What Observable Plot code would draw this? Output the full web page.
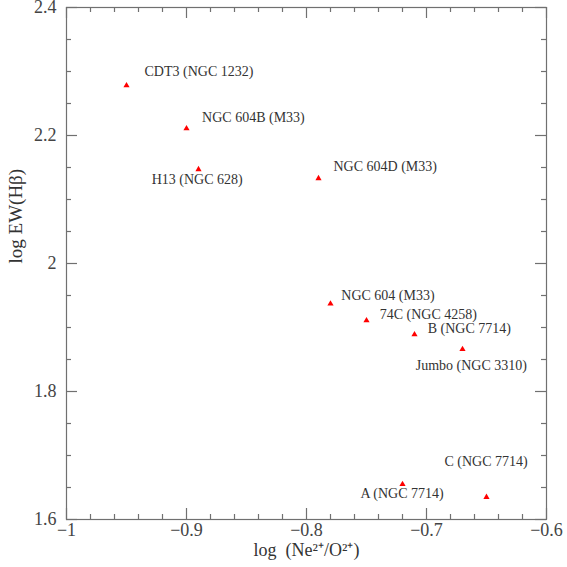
<!DOCTYPE html>
<html><head><meta charset="utf-8">
<script src="https://cdn.jsdelivr.net/npm/d3@7"></script>
<script src="https://cdn.jsdelivr.net/npm/@observablehq/plot@0.6"></script>
<style>body{margin:0;background:#fff}</style>
</head><body><div id="chart"></div>
<script>
// Data
const names = ["CDT3 (NGC 1232)", "NGC 604B (M33)", "H13 (NGC 628)", "NGC 604D (M33)", "NGC 604 (M33)",
  "74C (NGC 4258)", "B (NGC 7714)", "Jumbo (NGC 3310)", "A (NGC 7714)", "C (NGC 7714)"];
const logNeO = [-0.95, -0.90, -0.89, -0.79, -0.78, -0.75, -0.71, -0.67, -0.72, -0.65];
const logEW = [2.278, 2.211, 2.147, 2.133, 1.937, 1.911, 1.889, 1.866, 1.655, 1.635];
// label anchor positions (data coordinates, text start)
const labelX = [-0.935, -0.887, -0.929, -0.7775, -0.771, -0.739, -0.699, -0.709, -0.755, -0.685];
const labelY = [2.300, 2.228, 2.131, 2.151, 1.950, 1.920, 1.899, 1.840, 1.640, 1.690];
// Ticks
const xMajor = [-1, -0.9, -0.8, -0.7, -0.6];
const xMinor = [-0.98, -0.96, -0.94, -0.92, -0.88, -0.86, -0.84, -0.82, -0.78, -0.76, -0.74, -0.72,
  -0.68, -0.66, -0.64, -0.62];
const yMajor = [1.6, 1.8, 2, 2.2, 2.4];
const yMinor = [1.65, 1.7, 1.75, 1.85, 1.9, 1.95, 2.05, 2.1, 2.15, 2.25, 2.3, 2.35];
const xTitle = "log\u00a0\u00a0(Ne²⁺/O²⁺)";
const yTitle = "log EW(Hβ)";

const rows = names.map((n, i) => ({name: n, x: logNeO[i], y: logEW[i], lx: labelX[i], ly: labelY[i]}));

const W = 567, H = 567, mL = 66, mR = 21, mT = 7, mB = 48;
const pw = W - mL - mR, ph = H - mT - mB;
const ax = "#707070";
const fmt = d3.format("~g");
const font = "Liberation Serif";

const chart = Plot.plot({
  width: W, height: H,
  marginLeft: mL, marginRight: mR, marginTop: mT, marginBottom: mB,
  x: {domain: [-1, -0.6], axis: null},
  y: {domain: [1.6, 2.4], axis: null},
  style: {background: "#fff"},
  marks: [
    Plot.frame({stroke: ax, strokeWidth: 1.2}),
    Plot.tickX(xMajor, {x: d => d, insetTop: ph - 11, stroke: ax, strokeWidth: 1.2}),
    Plot.tickX(xMajor, {x: d => d, insetBottom: ph - 11, stroke: ax, strokeWidth: 1.2}),
    Plot.tickX(xMinor, {x: d => d, insetTop: ph - 5, stroke: ax, strokeWidth: 1.2}),
    Plot.tickX(xMinor, {x: d => d, insetBottom: ph - 5, stroke: ax, strokeWidth: 1.2}),
    Plot.tickY(yMajor, {y: d => d, insetRight: pw - 11, stroke: ax, strokeWidth: 1.2}),
    Plot.tickY(yMajor, {y: d => d, insetLeft: pw - 11, stroke: ax, strokeWidth: 1.2}),
    Plot.tickY(yMinor, {y: d => d, insetRight: pw - 5, stroke: ax, strokeWidth: 1.2}),
    Plot.tickY(yMinor, {y: d => d, insetLeft: pw - 5, stroke: ax, strokeWidth: 1.2}),
    Plot.text(xMajor, {x: d => d, frameAnchor: "bottom", dy: 16, text: d => fmt(d), ariaLabel: "ticklabel",
      fontFamily: font, fontSize: 18, fill: "#444"}),
    Plot.text(yMajor, {y: d => d, frameAnchor: "left", dx: -10, textAnchor: "end", text: d => fmt(d), ariaLabel: "ticklabel",
      fontFamily: font, fontSize: 18, fill: "#444"}),
    Plot.text([xTitle], {frameAnchor: "bottom", dy: 36, text: d => d, ariaLabel: "title",
      fontFamily: font, fontSize: 18, fill: "#333"}),
    Plot.text([yTitle], {frameAnchor: "left", dx: -51, rotate: -90, text: d => d, ariaLabel: "title",
      fontFamily: font, fontSize: 19, fill: "#333"}),
    Plot.dot(rows, {x: "x", y: "y", symbol: "triangle", r: 2.3, fill: "red", stroke: null}),
    Plot.text(rows, {x: "lx", y: "ly", text: "name", textAnchor: "start",
      fontFamily: font, fontSize: 14, fill: "#333"})
  ]
});
d3.select(chart).selectAll("g[aria-label='ticklabel'] text").style("letter-spacing", "1.5px");
d3.select(chart).selectAll("g[aria-label='title'] text").style("letter-spacing", "1px");
document.getElementById("chart").appendChild(chart);
</script>
</body></html>
